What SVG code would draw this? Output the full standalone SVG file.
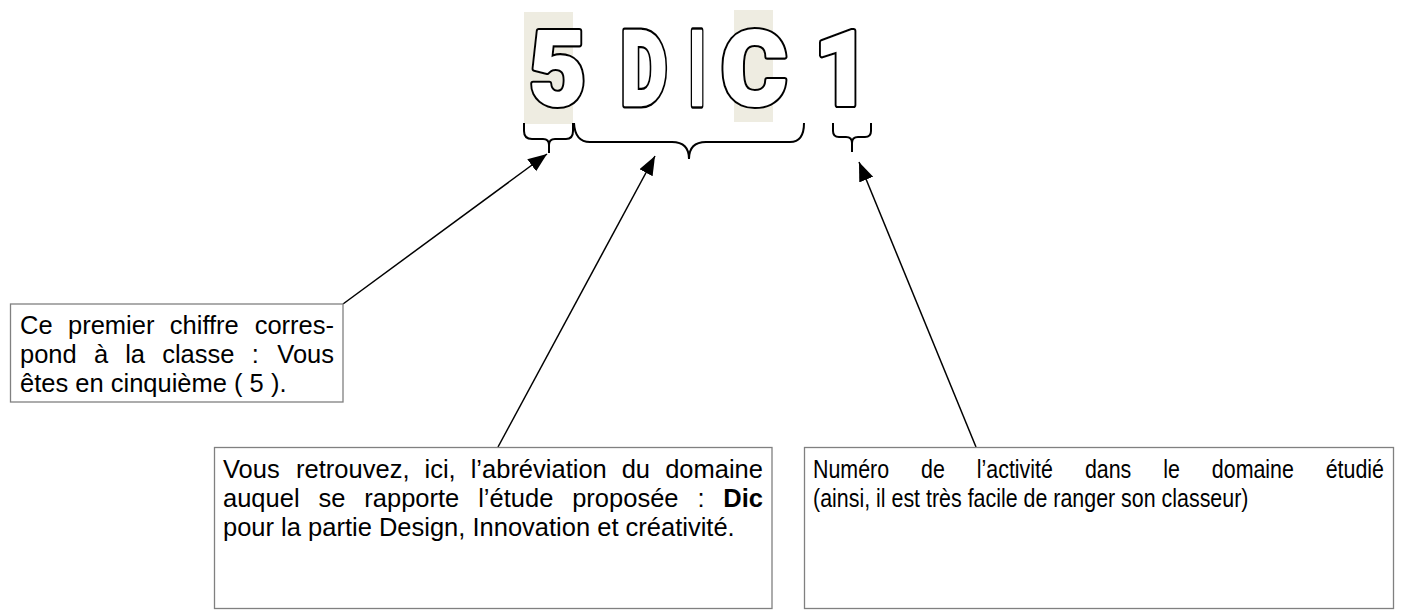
<svg xmlns="http://www.w3.org/2000/svg" width="1405" height="612" viewBox="0 0 1405 612">
<style>
.big{font-family:Roboto,"Liberation Sans",Arial,sans-serif;font-weight:900;font-size:104px;text-anchor:middle}
.bk{fill:#000;stroke:#000;stroke-width:6;stroke-linejoin:round}
.wh{fill:#fff;stroke:#fff;stroke-width:2;stroke-linejoin:round}
.box{fill:#fff;stroke:#808080;stroke-width:1.3}
.t{font-family:"Liberation Sans",Arial,sans-serif;font-size:25.5px;fill:#000}
.b{font-weight:bold}
.brace{fill:none;stroke:#000;stroke-width:2}
.arr{fill:none;stroke:#000;stroke-width:1.5}
.hl{fill:#EEECE1}
</style>
<defs>
<marker id="ah" markerUnits="userSpaceOnUse" markerWidth="20" markerHeight="16" refX="19" refY="7.5" orient="auto">
<path d="M0,0 L19,7.5 L0,15 z" fill="#000"/>
</marker>
<text id="g5" class="big" vector-effect="non-scaling-stroke" transform="translate(557.5,105) scale(0.94,1)">5</text>
<text id="gD" class="big" vector-effect="non-scaling-stroke" transform="translate(644,105) scale(0.69,1)">D</text>
<text id="gI" class="big" vector-effect="non-scaling-stroke" transform="translate(697,105) scale(0.5,1)">I</text>
<text id="gC" class="big" vector-effect="non-scaling-stroke" transform="translate(754,105) scale(0.97,1)">C</text>
<text id="g1" class="big" vector-effect="non-scaling-stroke" transform="translate(842,105) scale(0.93,1)">1</text>
</defs>
<g id="title">
<rect class="hl" x="524" y="12" width="49" height="112"/>
<rect class="hl" x="734" y="10" width="39" height="112"/>
<use href="#g5" class="bk"/><use href="#g5" class="wh"/>
<use href="#gD" class="bk"/><use href="#gD" class="wh"/>
<use href="#gI" class="bk"/><use href="#gI" class="wh"/>
<use href="#gC" class="bk"/><use href="#gC" class="wh"/>
<use href="#g1" class="bk"/><use href="#g1" class="wh"/>
</g>
<g id="braces">
<path class="brace" d="M524,123 L524,131 Q524,139 532,139 L543,139 Q549,139 549,145 L549,153 M549,145 Q549,139 555,139 L566,139 Q573,139 573,131 L573,123"/>
<path class="brace" d="M574,123 Q575,142 590,142 L672,142 Q689,142 689,159 Q689,142 706,142 L790,142 Q804,142 804,123"/>
<path class="brace" d="M833,123 L833,131 Q833,137 839,137 L846,137 Q852,137 852,143 L852,152 M852,143 Q852,137 858,137 L865,137 Q871,137 871,131 L871,123"/>
</g>
<g id="connectors">
<line class="arr" x1="343" y1="304" x2="547" y2="154" marker-end="url(#ah)"/>
<line class="arr" x1="498" y1="447" x2="655" y2="156" marker-end="url(#ah)"/>
<line class="arr" x1="976" y1="447" x2="859" y2="162" marker-end="url(#ah)"/>
</g>
<g id="box-classe">
<rect class="box" x="10.5" y="304" width="332.5" height="98"/>
<text class="t" y="334"><tspan x="20">Ce</tspan><tspan x="68">premier</tspan><tspan x="169.8">chiffre</tspan></text>
<text class="t" x="334" y="334" text-anchor="end">corres-</text>
<text class="t" y="363"><tspan x="20">pond</tspan><tspan x="93.9">à</tspan><tspan x="125.2">la</tspan><tspan x="162.2">classe</tspan><tspan x="251.7">:</tspan></text>
<text class="t" x="334" y="363" text-anchor="end">Vous</text>
<text class="t" x="20" y="392">êtes en cinquième ( 5 ).</text>
</g>
<g id="box-domaine">
<rect class="box" x="214.5" y="447.5" width="557.5" height="161"/>
<text class="t" y="478"><tspan x="223">Vous</tspan><tspan x="296.1">retrouvez,</tspan><tspan x="424.5">ici,</tspan><tspan x="470.7">l’abréviation</tspan><tspan x="621.7">du</tspan></text>
<text class="t" x="763" y="478" text-anchor="end">domaine</text>
<text class="t" y="507"><tspan x="223">auquel</tspan><tspan x="318.5">se</tspan><tspan x="364.3">rapporte</tspan><tspan x="478.2">l’étude</tspan><tspan x="572.2">proposée</tspan><tspan x="697.4">:</tspan></text>
<text class="t b" x="763" y="507" text-anchor="end">Dic</text>
<text class="t" x="223" y="536">pour la partie Design, Innovation et créativité.</text>
</g>
<g id="box-numero">
<rect class="box" x="804.5" y="447.5" width="589" height="161"/>
<text class="t" transform="matrix(0.84,0,0,1,813,478)"><tspan x="0">Numéro</tspan><tspan x="128.7">de</tspan><tspan x="195">l’activité</tspan><tspan x="323.7">dans</tspan><tspan x="416.9">le</tspan><tspan x="474.8">domaine</tspan></text>
<text class="t" transform="matrix(0.84,0,0,1,813,478)" x="679.8" text-anchor="end">étudié</text>
<text class="t" transform="matrix(0.84,0,0,1,813,507)" x="0">(ainsi, il est très facile de ranger son classeur)</text>
</g>
</svg>
